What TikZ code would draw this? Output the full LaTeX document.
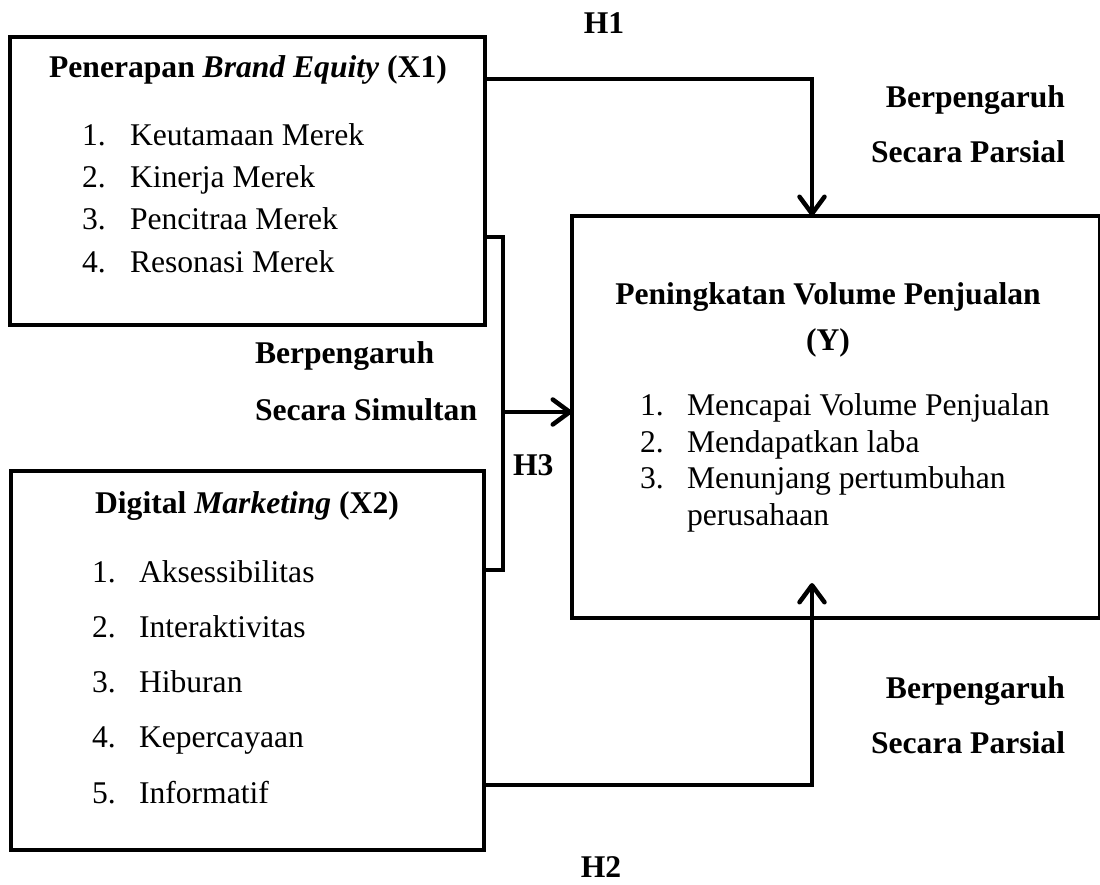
\documentclass[tikz,border=0pt]{standalone}
\usepackage{fontspec}
\setmainfont{Liberation Serif}
\usetikzlibrary{arrows.meta}
\begin{document}
\begin{tikzpicture}[x=1pt,y=-1pt,
  every node/.style={inner sep=0pt,outer sep=0pt,font=\fontsize{31.6}{37}\selectfont},
  box/.style={draw,line width=4.5pt,rectangle},
  conn/.style={line width=4.5pt},
  arr/.style={conn,-{Straight Barb[length=17pt,width=25pt,line width=4.5pt,round]}},
  lbl/.style={font=\fontsize{31.6}{37}\selectfont\bfseries},
  txt/.style={anchor=base west}
]
\useasboundingbox (0,0) rectangle (1100,884);
% boxes
\node[box,minimum width=475pt,minimum height=288pt] (x1) at (247.5,181) {};
\node[box,minimum width=473pt,minimum height=379pt] (x2) at (247.5,660.5) {};
\node[box,minimum width=528pt,minimum height=402pt] (y) at (836,417) {};
% X1 text
\node[anchor=base,lbl] (x1t) at (248,77) {Penerapan \textit{Brand Equity} (X1)};
\node[txt] (x1n1) at (82,145) {1.}; \node[txt] (x1a) at (130,145) {Keutamaan Merek};
\node[txt] (x1n2) at (82,187) {2.}; \node[txt] (x1b) at (130,187) {Kinerja Merek};
\node[txt] (x1n3) at (82,229) {3.}; \node[txt] (x1c) at (130,229) {Pencitraa Merek};
\node[txt] (x1n4) at (82,272) {4.}; \node[txt] (x1d) at (130,272) {Resonasi Merek};
% X2 text
\node[anchor=base,lbl] (x2t) at (247,513) {Digital \textit{Marketing} (X2)};
\node[txt] (x2n1) at (92,582) {1.}; \node[txt] (x2a) at (139,582) {Aksessibilitas};
\node[txt] (x2n2) at (92,637) {2.}; \node[txt] (x2b) at (139,637) {Interaktivitas};
\node[txt] (x2n3) at (92,692) {3.}; \node[txt] (x2c) at (139,692) {Hiburan};
\node[txt] (x2n4) at (92,747) {4.}; \node[txt] (x2d) at (139,747) {Kepercayaan};
\node[txt] (x2n5) at (92,803) {5.}; \node[txt] (x2e) at (139,803) {Informatif};
% Y text
\node[anchor=base,lbl] (yt) at (828,304) {Peningkatan Volume Penjualan};
\node[anchor=base,lbl] (yt2) at (828,350) {(Y)};
\node[txt] (yn1) at (640,415) {1.}; \node[txt] (ya) at (687,415) {Mencapai Volume Penjualan};
\node[txt] (yn2) at (640,452) {2.}; \node[txt] (yb) at (687,452) {Mendapatkan laba};
\node[txt] (yn3) at (640,488) {3.}; \node[txt] (yc) at (687,488) {Menunjang pertumbuhan};
\node[txt] (yc2) at (687,525) {perusahaan};
% labels
\node[anchor=base,lbl] (h1) at (604,33) {H1};
\node[anchor=base east,lbl] (b1) at (1065,107) {Berpengaruh};
\node[anchor=base east,lbl] (s1) at (1065,162) {Secara Parsial};
\node[anchor=base west,lbl] (b3) at (255,363) {Berpengaruh};
\node[anchor=base west,lbl] (s3) at (255,420) {Secara Simultan};
\node[anchor=base west,lbl] (h3) at (513,475) {H3};
\node[anchor=base east,lbl] (b2) at (1065,698) {Berpengaruh};
\node[anchor=base east,lbl] (s2) at (1065,753) {Secara Parsial};
\node[anchor=base,lbl] (h2) at (601,877) {H2};
% connector coordinates
\coordinate (h1y) at (0,79);
\coordinate (h1x) at (812,0);
\coordinate (bt) at (503,237);
\coordinate (bb) at (503,570);
\coordinate (bm) at (503,412);
\coordinate (h2y) at (0,785);
\coordinate (h2tip) at (812,583);
% connectors
\draw[arr] (x1.east |- h1y) -| (h1x |- y.north);
\draw[conn] (x1.east |- bt) -- (bt) -- (bb) -- (x2.east |- bb);
\draw[arr] (bm) -- (y.west |- bm);
\draw[arr] (x2.east |- h2y) -| (h2tip);
\end{tikzpicture}
\end{document}
